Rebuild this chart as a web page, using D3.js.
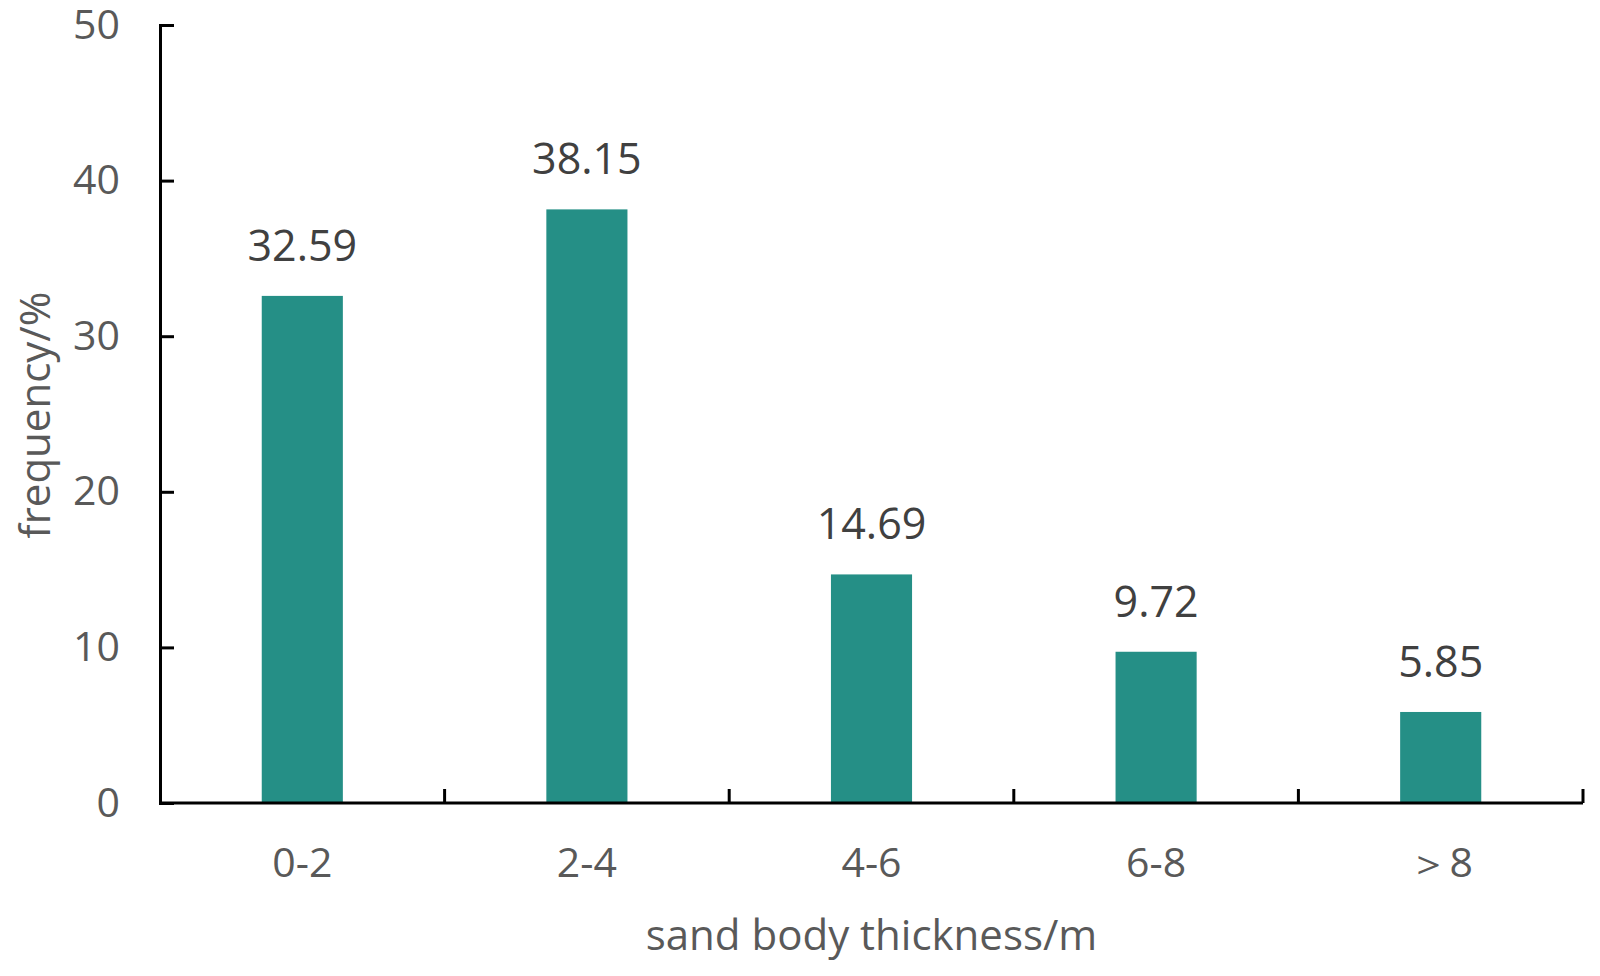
<!DOCTYPE html>
<html>
<head>
<meta charset="utf-8">
<script src="https://cdn.jsdelivr.net/npm/d3@7"></script>
<style>
  body { margin: 0; background: #fff; }
  text { font-family: "Open Sans", "Noto Sans", sans-serif; }
</style>
</head>
<body>
<div id="chart"></div>
<script>
const categories = ["0-2", "2-4", "4-6", "6-8", "\uFF1E8"];
const frequency = [32.59, 38.15, 14.69, 9.72, 5.85];
const yTicks = [0, 10, 20, 30, 40, 50];

const W = 1600, H = 976;
const margin = { top: 25, right: 17, bottom: 173, left: 160 };
const width = W - margin.left - margin.right;
const height = H - margin.top - margin.bottom;

const svg = d3.select("#chart").append("svg")
    .attr("width", W)
    .attr("height", H);

const g = svg.append("g").attr("transform", `translate(${margin.left},${margin.top})`);

const x = d3.scaleBand().domain(categories).range([0, width]).paddingInner(0.715).paddingOuter(0.3575);
const xOuter = d3.scaleBand().domain(categories).range([0, width]);
const y = d3.scaleLinear().domain([0, 50]).range([height, 0]);

// bars
g.selectAll(".bar")
    .data(frequency)
    .enter()
    .append("rect")
    .attr("class", "bar")
    .attr("x", (d, i) => x(categories[i]))
    .attr("y", d => y(d))
    .attr("width", x.bandwidth())
    .attr("height", d => height - y(d))
    .attr("fill", "#258f86");

// value labels
g.selectAll(".val")
    .data(frequency)
    .enter()
    .append("text")
    .attr("x", (d, i) => x(categories[i]) + x.bandwidth() / 2)
    .attr("y", d => y(d) - 35)
    .attr("text-anchor", "middle")
    .attr("font-size", 43)
    .attr("fill", "#404040")
    .text(d => d.toFixed(2));

// y axis
const yAxis = g.append("g")
    .call(d3.axisLeft(y).tickValues(yTicks).tickSize(-14).tickPadding(40));
yAxis.select(".domain").attr("stroke", "#000").attr("stroke-width", 3);
yAxis.selectAll(".tick line").attr("stroke", "#000").attr("stroke-width", 3);
yAxis.selectAll("text").attr("font-size", 41).attr("fill", "#595959")
    .attr("font-family", "'Open Sans', sans-serif");

// x axis: ticks at category boundaries
const xAxis = g.append("g").attr("transform", `translate(0,${height})`);
xAxis.append("line")
    .attr("x1", 0).attr("x2", width)
    .attr("stroke", "#000").attr("stroke-width", 3);
const bounds = categories.map(c => xOuter(c) + xOuter.bandwidth());
xAxis.selectAll(".xt")
    .data(bounds)
    .enter()
    .append("line")
    .attr("x1", d => d).attr("x2", d => d)
    .attr("y1", 0).attr("y2", -14)
    .attr("stroke", "#000").attr("stroke-width", 3);
xAxis.selectAll(".xl")
    .data(categories)
    .enter()
    .append("text")
    .attr("x", d => xOuter(d) + xOuter.bandwidth() / 2)
    .attr("y", 74)
    .attr("text-anchor", "middle")
    .attr("font-size", 41)
    .attr("fill", "#595959")
    .text(d => d);

// axis titles
svg.append("text")
    .attr("x", margin.left + width / 2)
    .attr("y", 950)
    .attr("text-anchor", "middle")
    .attr("font-size", 42)
    .attr("fill", "#595959")
    .text("sand body thickness/m");

svg.append("text")
    .attr("transform", `translate(50,415) rotate(-90)`)
    .attr("text-anchor", "middle")
    .attr("font-size", 42)
    .attr("fill", "#595959")
    .text("frequency/%");
</script>
</body>
</html>
